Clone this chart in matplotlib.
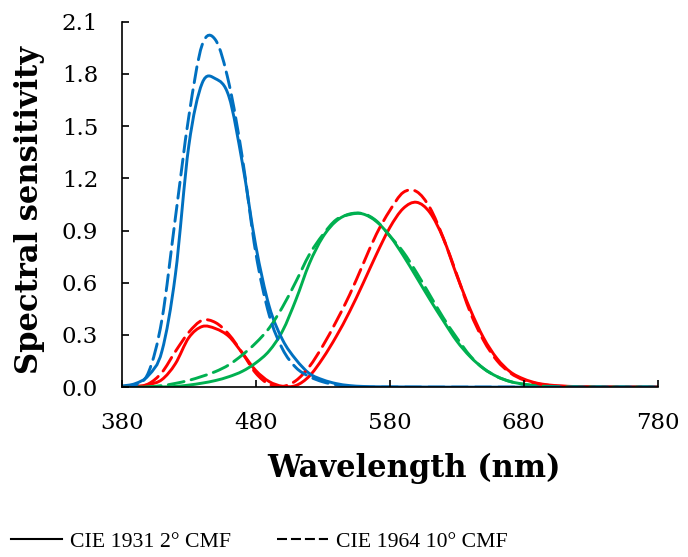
import matplotlib.pyplot as plt
import numpy as np
from matplotlib.lines import Line2D
from matplotlib.patches import PathPatch
from matplotlib.path import Path

# Wavelength grid (nm), 10 nm steps
wl = list(range(380, 790, 10))

# CIE 1931 2 deg colour matching functions
x_1931 = [0.001368, 0.004243, 0.014310, 0.043510, 0.134380, 0.283900, 0.348280, 0.336200,
          0.290800, 0.195360, 0.095640, 0.032010, 0.004900, 0.009300, 0.063270, 0.165500,
          0.290400, 0.433450, 0.594500, 0.762100, 0.916300, 1.026300, 1.062200, 1.002600,
          0.854450, 0.642400, 0.447900, 0.283500, 0.164900, 0.087400, 0.046770, 0.022700,
          0.011359, 0.005790, 0.002899, 0.001440, 0.000690, 0.000332, 0.000166, 0.000083,
          0.000042]
y_1931 = [0.000039, 0.000120, 0.000396, 0.001210, 0.004000, 0.011600, 0.023000, 0.038000,
          0.060000, 0.090980, 0.139020, 0.208020, 0.323000, 0.503000, 0.710000, 0.862000,
          0.954000, 0.994950, 0.995000, 0.952000, 0.870000, 0.757000, 0.631000, 0.503000,
          0.381000, 0.265000, 0.175000, 0.107000, 0.061000, 0.032000, 0.017000, 0.008210,
          0.004102, 0.002091, 0.001047, 0.000520, 0.000249, 0.000120, 0.000060, 0.000030,
          0.000015]
z_1931 = [0.006450, 0.020050, 0.067850, 0.207400, 0.645600, 1.385600, 1.747060, 1.772110,
          1.669200, 1.287640, 0.812950, 0.465180, 0.272000, 0.158200, 0.078250, 0.042160,
          0.020300, 0.008750, 0.003900, 0.002100, 0.001650, 0.001100, 0.000800, 0.000340,
          0.000190, 0.000050, 0.000020, 0.0, 0.0, 0.0, 0.0, 0.0,
          0.0, 0.0, 0.0, 0.0, 0.0, 0.0, 0.0, 0.0, 0.0]

# CIE 1964 10 deg colour matching functions
x_1964 = [0.000160, 0.002362, 0.019110, 0.084736, 0.204492, 0.314679, 0.383734, 0.370702,
          0.302273, 0.195618, 0.080507, 0.016172, 0.003816, 0.037465, 0.117749, 0.236491,
          0.376772, 0.529826, 0.705224, 0.878655, 1.014160, 1.118520, 1.123990, 1.030480,
          0.856297, 0.647467, 0.431567, 0.268329, 0.152568, 0.081261, 0.040851, 0.019941,
          0.009577, 0.004553, 0.002175, 0.001045, 0.000508, 0.000251, 0.000126, 0.000065,
          0.000033]
y_1964 = [0.000017, 0.000253, 0.002004, 0.008756, 0.021391, 0.038676, 0.062077, 0.089456,
          0.128201, 0.185190, 0.253589, 0.339133, 0.460777, 0.606741, 0.761757, 0.875211,
          0.961988, 0.991761, 0.997340, 0.955552, 0.868934, 0.777405, 0.658341, 0.527963,
          0.398057, 0.283493, 0.179828, 0.107633, 0.060281, 0.031800, 0.015905, 0.007749,
          0.003718, 0.001768, 0.000846, 0.000408, 0.000199, 0.000098, 0.000048, 0.000024,
          0.000012]
z_1964 = [0.000705, 0.010482, 0.086011, 0.389366, 0.972542, 1.553480, 1.967280, 1.994800,
          1.745370, 1.317560, 0.772125, 0.415254, 0.218502, 0.112044, 0.060709, 0.030451,
          0.013676, 0.003988, 0.0, 0.0, 0.0, 0.0, 0.0, 0.0,
          0.0, 0.0, 0.0, 0.0, 0.0, 0.0, 0.0, 0.0,
          0.0, 0.0, 0.0, 0.0, 0.0, 0.0, 0.0, 0.0, 0.0]

RED, GREEN, BLUE = '#FF0000', '#00B050', '#0070C0'
DASH = (0, (5.5, 2.5))


def smooth_path(xs, ys):
    """Bezier path through the points, like a spreadsheet 'smoothed line'."""
    p = np.column_stack([xs, ys]).astype(float)
    ext = np.vstack([p[0], p, p[-1]])
    verts = [p[0]]
    codes = [Path.MOVETO]
    for i in range(len(p) - 1):
        p0, p1, p2, p3 = ext[i], ext[i + 1], ext[i + 2], ext[i + 3]
        verts += [p1 + (p2 - p0) / 6, p2 - (p3 - p1) / 6, p2]
        codes += [Path.CURVE4] * 3
    return Path(verts, codes)


fig = plt.figure(figsize=(6.88, 5.57), dpi=100)
ax = fig.add_axes([0.177, 0.305, 0.779, 0.656])

series = [
    (x_1931, RED, '-'), (y_1931, GREEN, '-'), (z_1931, BLUE, '-'),
    (x_1964, RED, DASH), (y_1964, GREEN, DASH), (z_1964, BLUE, DASH),
]
for vals, col, ls in series:
    ax.add_patch(PathPatch(smooth_path(wl, vals), fill=False, edgecolor=col,
                           lw=2.1, linestyle=ls, capstyle='round'))

ax.set_xlim(380, 780)
ax.set_ylim(0, 2.1)
ax.set_xticks(np.arange(380, 781, 100))
ax.set_yticks(np.arange(0, 2.11, 0.3))
ax.yaxis.set_major_formatter(plt.FormatStrFormatter('%.1f'))
for s in ['top', 'right']:
    ax.spines[s].set_visible(False)
for s in ['left', 'bottom']:
    ax.spines[s].set_linewidth(1.2)
ax.tick_params(direction='in', length=5, width=1.2, labelsize=16.5)
ax.tick_params(axis='x', pad=18)
ax.tick_params(axis='y', pad=17)
for lab in ax.get_xticklabels() + ax.get_yticklabels():
    lab.set_family('DejaVu Serif')

ax.set_xlabel('Wavelength (nm)', family='DejaVu Serif', fontweight='bold',
              fontsize=22)
ax.set_ylabel('Spectral sensitivity', family='DejaVu Serif', fontweight='bold',
              fontsize=22)
ax.xaxis.set_label_coords(0.545, -0.18)
ax.yaxis.set_label_coords(-0.143, 0.485)

handles = [Line2D([], [], color='black', lw=1.5),
           Line2D([], [], color='black', lw=1.5, linestyle=(0, (4.8, 1.9)))]
fig.legend(handles, ['CIE 1931 2° CMF', 'CIE 1964 10° CMF'], loc='center left',
           bbox_to_anchor=(-0.006, 0.027), ncol=2, frameon=False,
           prop={'family': 'Liberation Serif', 'size': 15.7},
           handlelength=2.35, handletextpad=0.35, columnspacing=2.1,
           borderpad=0.2)

fig.savefig('out.png', dpi=100)
